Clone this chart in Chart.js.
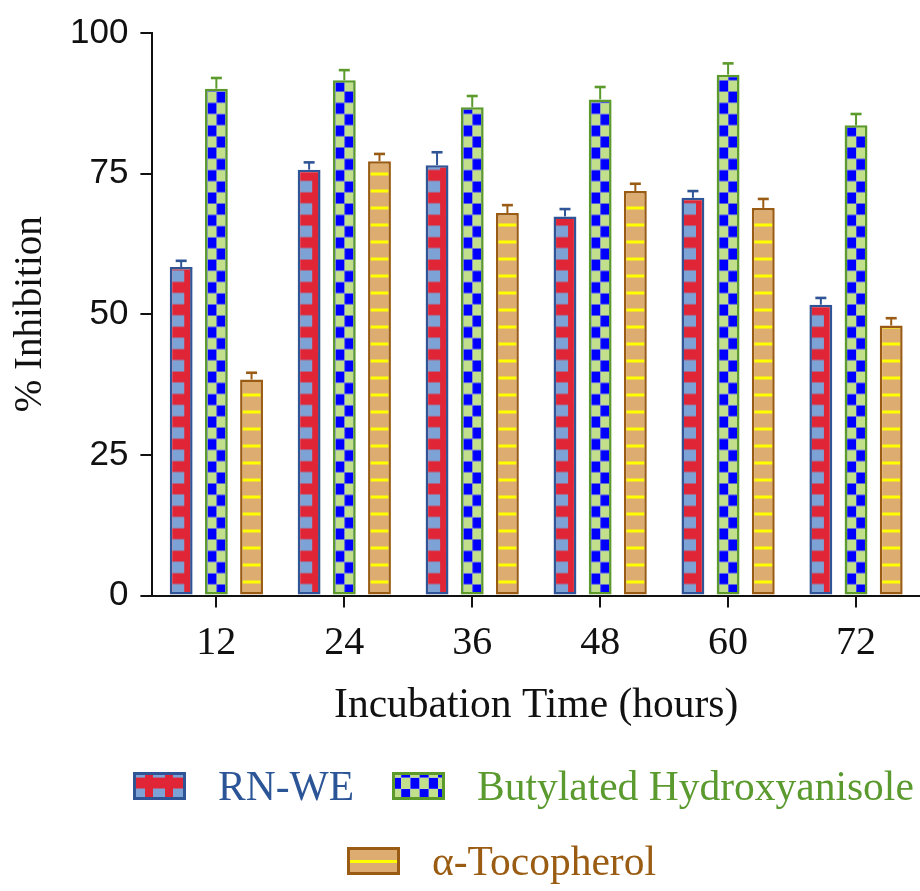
<!DOCTYPE html>
<html lang="en">
<head>
<meta charset="utf-8">
<title>% Inhibition</title>
<script src="https://cdn.jsdelivr.net/npm/chart.js@4.4.1/dist/chart.umd.min.js"></script>
<style>
  html, body { margin: 0; padding: 0; background: #fff; }
  #cadre { position: relative; width: 920px; height: 891px; overflow: hidden; }
  #graphique { display: block; }
  .legende-ligne {
    position: absolute; display: flex; align-items: center; height: 48px;
    font-family: 'Liberation Serif', 'Times New Roman', serif; font-size: 41.5px; white-space: nowrap;
  }
  .legende-item { display: flex; align-items: center; margin-right: 38px; }
  .legende-item canvas { display: block; margin-right: 32px; }
</style>
</head>
<body>
<div id="cadre">
  <canvas id="graphique" width="920" height="891"></canvas>
  <div class="legende-ligne" id="ligne-1" style="left:133px; top:762px"></div>
  <div class="legende-ligne" id="ligne-2" style="left:347px; top:837px"></div>
</div>
<script>
'use strict';

/* === DONNÉES === */
const HOURS = ['12', '24', '36', '48', '60', '72'];
const Y_TICKS = [0, 25, 50, 75, 100];

const RN_WE = [58.4, 75.7, 76.5, 67.4, 70.7, 51.7];
const RN_WE_SD = [1.1, 1.3, 2.3, 1.3, 1.2, 1.2];

const BHA = [90.1, 91.6, 86.8, 88.2, 92.6, 83.6];
const BHA_SD = [1.9, 1.8, 2.0, 2.2, 2.0, 2.0];

const TOCO = [38.4, 77.2, 68.0, 71.9, 68.9, 48.0];
const TOCO_SD = [1.2, 1.3, 1.4, 1.3, 1.6, 1.3];

const LABELS = ['RN-WE', 'Butylated Hydroxyanisole', '\u03b1-Tocopherol'];

/* === STYLES === */
const BORDURES = ['#2f5597', '#5b9a2b', '#9a5c14'];
const TEXTES = ['#2c5597', '#5a9a2e', '#9a5c12'];
const BORD = 2.5;
const SERIF = "'Liberation Serif', 'Times New Roman', serif";
const SANS = "'Liberation Sans', Arial, sans-serif";

/* === MOTIFS (tuiles dessinées depuis le bas) === */

function tuileBrique() {
  const c = document.createElement('canvas');
  c.width = 40; c.height = 112;
  const g = c.getContext('2d');
  g.fillStyle = '#e02636';
  g.fillRect(0, 0, 40, 112);
  g.fillStyle = '#7da2d6';
  for (let k = 0; k < 5; k++) {
    const bas = 112 - 22.4 * k;
    g.fillRect(0, bas - 11.5, 12, 11.5);
    g.fillRect(20, bas - 11.5, 12, 11.5);
  }
  return c;
}

function tuileDamier() {
  const c = document.createElement('canvas');
  c.width = 92; c.height = 112;
  const g = c.getContext('2d');
  for (let j = 0; j < 10; j++) {
    for (let i = 0; i < 10; i++) {
      g.fillStyle = (i + j) % 2 ? '#0000ff' : '#c2e08c';
      g.fillRect(i * 9.2, 112 - 11.2 * (j + 1), 9.2, 11.2);
    }
  }
  return c;
}

function tuileRayure() {
  const c = document.createElement('canvas');
  c.width = 4; c.height = 17;
  const g = c.getContext('2d');
  g.fillStyle = '#ddac70';
  g.fillRect(0, 0, 4, 17);
  g.fillStyle = '#ffff00';
  g.fillRect(0, 2, 4, 3);
  return c;
}

const TUILES = [tuileBrique(), tuileDamier(), tuileRayure()];

function remplissage(index) {
  return c => {
    const motif = c.chart.ctx.createPattern(TUILES[index], 'repeat');
    const el = c.element;
    if (el && el.x !== undefined && c.chart.scales.y) {
      const gauche = el.x - el.width / 2 + BORD;
      const base = c.chart.scales.y.getPixelForValue(0);
      motif.setTransform(new DOMMatrix().translate(gauche, base));
    }
    return motif;
  };
}

/* === BARRES D'ERREUR === */
const ECARTS = [RN_WE_SD, BHA_SD, TOCO_SD];

const pluginErreurs = {
  id: 'erreurs',
  afterDatasetsDraw(chart) {
    const { ctx } = chart;
    const y = chart.scales.y;
    chart.data.datasets.forEach((ds, i) => {
      chart.getDatasetMeta(i).data.forEach((barre, j) => {
        const haut = y.getPixelForValue(ds.data[j] + ECARTS[i][j]);
        ctx.save();
        ctx.strokeStyle = BORDURES[i];
        ctx.lineWidth = 2;
        ctx.beginPath();
        ctx.moveTo(barre.x, barre.y);
        ctx.lineTo(barre.x, haut);
        ctx.stroke();
        ctx.lineWidth = 2.6;
        ctx.beginPath();
        ctx.moveTo(barre.x - 5.5, haut);
        ctx.lineTo(barre.x + 5.5, haut);
        ctx.stroke();
        ctx.restore();
      });
    });
  }
};

/* === GRAPHIQUE === */

function serie(index, valeurs) {
  return {
    label: LABELS[index],
    data: valeurs,
    backgroundColor: remplissage(index),
    borderColor: BORDURES[index],
    borderWidth: BORD,
    borderSkipped: false,
    categoryPercentage: 0.825,
    barPercentage: 0.65
  };
}

const graphique = new Chart(document.getElementById('graphique'), {
  type: 'bar',
  data: {
    labels: HOURS,
    datasets: [serie(0, RN_WE), serie(1, BHA), serie(2, TOCO)]
  },
  options: {
    responsive: false,
    animation: false,
    events: [],
    layout: { padding: { top: 32, right: 0, left: 0, bottom: 164 } },
    plugins: {
      legend: { display: false },
      tooltip: { enabled: false }
    },
    scales: {
      x: {
        grid: { display: true, drawOnChartArea: false, offset: false, tickLength: 12, color: '#111', lineWidth: 2 },
        border: { color: '#111', width: 2 },
        ticks: { color: '#111', padding: 12, font: { family: SERIF, size: 40 } },
        title: {
          display: true, text: 'Incubation Time (hours)', color: '#111',
          font: { family: SERIF, size: 41.5, lineHeight: 1 }, padding: { top: 6, bottom: 0 }
        }
      },
      y: {
        min: 0,
        max: 100,
        afterBuildTicks: s => { s.ticks = Y_TICKS.map(v => ({ value: v })); },
        grid: { display: true, drawOnChartArea: false, tickLength: 12, color: '#111', lineWidth: 2 },
        border: { color: '#111', width: 2 },
        ticks: { color: '#111', padding: 12, font: { family: SANS, size: 35 } },
        title: {
          display: true, text: '% Inhibition', color: '#111',
          font: { family: SERIF, size: 39, lineHeight: 1 }, padding: { top: 11, bottom: 8 }
        }
      }
    }
  },
  plugins: [pluginErreurs]
});

// deuxième passe : les motifs s'alignent sur les barres positionnées
graphique.update();

/* === LÉGENDE === */

function creerItem(index) {
  const item = document.createElement('div');
  item.className = 'legende-item';
  const carre = document.createElement('canvas');
  carre.width = 53; carre.height = 28;
  const g = carre.getContext('2d');
  const motif = g.createPattern(TUILES[index], 'repeat');
  motif.setTransform(new DOMMatrix().translate(0, 28));
  g.fillStyle = motif;
  g.fillRect(0, 0, 53, 28);
  g.strokeStyle = BORDURES[index];
  g.lineWidth = 3;
  g.strokeRect(1.5, 1.5, 50, 25);
  const texte = document.createElement('span');
  texte.textContent = LABELS[index];
  texte.style.color = TEXTES[index];
  item.append(carre, texte);
  return item;
}

document.getElementById('ligne-1').append(creerItem(0), creerItem(1));
document.getElementById('ligne-2').append(creerItem(2));
</script>
</body>
</html>
